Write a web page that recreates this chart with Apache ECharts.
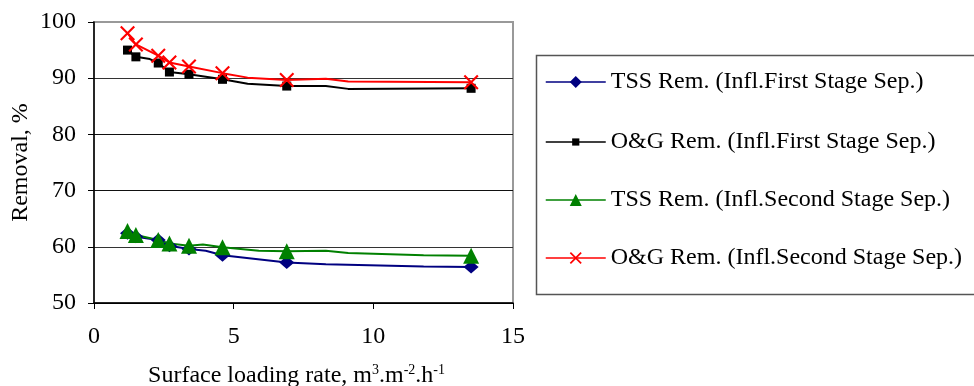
<!DOCTYPE html>
<html>
<head>
<meta charset="utf-8">
<script src="https://cdn.jsdelivr.net/npm/echarts@6/dist/echarts.min.js"></script>
<style>
    html, body { margin: 0; padding: 0; background: #fff; }
    #cn { width: 974px; height: 386px; }
</style>
</head>
<body>
<div id="cn"></div>
<script>
'use strict';

const rate = [1.2, 1.5, 2.3, 2.7, 3.4, 4.6, 6.9, 13.5];
const tssFirst = [62.4, 61.8, 61.2, 60.2, 59.6, 58.5, 57.2, 56.4];
const ogFirst = [95.0, 93.8, 92.7, 91.1, 90.7, 89.8, 88.6, 88.2];
const tssSecond = [62.8, 62.1, 61.2, 60.6, 60.2, 59.9, 59.2, 58.4];
const ogSecond = [98.0, 96.0, 94.0, 92.8, 92.1, 90.9, 89.7, 89.3];

// bend points of the drawn lines that carry no marker
const tssFirstBends = [[4.0, 59.3], [8.3, 56.9], [11.8, 56.5]];
const ogFirstBends = [[2.0, 93.4], [5.5, 89.0], [8.3, 88.6], [9.1, 88.1]];
const tssSecondBends = [[3.9, 60.4], [5.9, 59.3], [8.3, 59.3], [9.1, 58.9], [11.8, 58.5]];
const ogSecondBends = [[5.5, 90.1], [8.3, 89.9], [9.1, 89.4]];

const seriesNames = [
    'TSS Rem. (Infl.First Stage Sep.)',
    'O&G Rem. (Infl.First Stage Sep.)',
    'TSS Rem. (Infl.Second Stage Sep.)',
    'O&G Rem. (Infl.Second Stage Sep.)'
];

const yTicks = [50, 60, 70, 80, 90, 100];

const FONT = '"Liberation Serif", "Times New Roman", serif';
const CROSS = 'path://M0,1L1,0L5,4L9,0L10,1L6,5L10,9L9,10L5,6L1,10L0,9L4,5Z';

const buildData = (values, bends) => {
    let pts = values.map((v, i) => ({ value: [rate[i], v] }));
    pts = pts.concat(bends.map(b => ({ value: b, symbol: 'none' })));
    pts.sort((a, b) => a.value[0] - b.value[0]);
    return pts;
};

const mkSeries = (name, values, bends, color, symbol, size) => ({
    name: name,
    type: 'line',
    data: buildData(values, bends),
    symbol: symbol,
    symbolSize: size,
    showAllSymbol: true,
    lineStyle: { color: color, width: 2 },
    itemStyle: { color: color, borderWidth: 0 },
    emphasis: { disabled: true },
    z: 3
});

// one legend per row so each marker gets its own size (icon = 80% of itemHeight)
const legendRows = [
    { top: 70, h: 15 },
    { top: 130, h: 9 },
    { top: 188, h: 15 },
    { top: 246, h: 15 }
];

const chart = echarts.init(document.getElementById('cn'));

const option = {
    animation: false,
    backgroundColor: '#fff',
    textStyle: { fontFamily: FONT, color: '#000' },
    grid: {
        left: 94,
        right: 461,
        top: 22,
        bottom: 83,
        outerBoundsMode: 'none',
        show: true,
        borderColor: '#999',
        borderWidth: 2,
        backgroundColor: '#fff'
    },
    graphic: [{
        type: 'rect',
        left: 534,
        top: 53,
        shape: { width: 440, height: 239 },
        style: { fill: 'none', stroke: '#555', lineWidth: 1.5 },
        z: 1
    }],
    legend: legendRows.map((r, i) => ({
        orient: 'vertical',
        left: 545,
        top: r.top,
        padding: 0,
        itemWidth: 60,
        itemHeight: r.h,
        itemTextGap: 6,
        selectedMode: false,
        data: [seriesNames[i]],
        lineStyle: { width: 1.5 },
        textStyle: { fontFamily: FONT, fontSize: 24, lineHeight: 24, color: '#000' }
    })),
    xAxis: {
        type: 'value',
        min: 0,
        max: 15,
        interval: 5,
        name: 'Surface loading rate, m{sup|3}.m{sup|-2}.h{sup|-1}',
        nameLocation: 'middle',
        nameGap: 60,
        nameTextStyle: {
            fontFamily: FONT,
            fontSize: 24,
            color: '#000',
            padding: [0, 14, 0, 0],
            rich: {
                sup: { fontFamily: FONT, fontSize: 14, verticalAlign: 'top', padding: [0, 0, 12, 0], color: '#000' }
            }
        },
        axisLine: { lineStyle: { color: '#000', width: 1.5 } },
        axisTick: { show: true, length: 6, lineStyle: { color: '#000' } },
        axisLabel: { fontFamily: FONT, fontSize: 24, color: '#000', margin: 22 },
        splitLine: { show: false }
    },
    yAxis: {
        type: 'value',
        min: yTicks[0],
        max: yTicks[yTicks.length - 1],
        interval: 10,
        name: 'Removal, %',
        nameLocation: 'middle',
        nameGap: 61,
        nameTextStyle: { fontFamily: FONT, fontSize: 24, color: '#000' },
        axisLine: { show: true, lineStyle: { color: '#000', width: 1.5 } },
        axisTick: { show: true, length: 6, lineStyle: { color: '#000' } },
        axisLabel: { fontFamily: FONT, fontSize: 24, color: '#000', margin: 18 },
        splitLine: {
            show: true,
            lineStyle: { color: ['#000', '#333', '#111', '#111', '#333', '#999'], width: 1.2 }
        }
    },
    series: [
        mkSeries(seriesNames[0], tssFirst, tssFirstBends, '#000080', 'diamond', [15, 13]),
        mkSeries(seriesNames[1], ogFirst, ogFirstBends, '#000000', 'rect', 9),
        mkSeries(seriesNames[2], tssSecond, tssSecondBends, '#008000', 'triangle', 16),
        mkSeries(seriesNames[3], ogSecond, ogSecondBends, '#ff0000', CROSS, 15)
    ]
};

chart.setOption(option);
</script>
</body>
</html>
